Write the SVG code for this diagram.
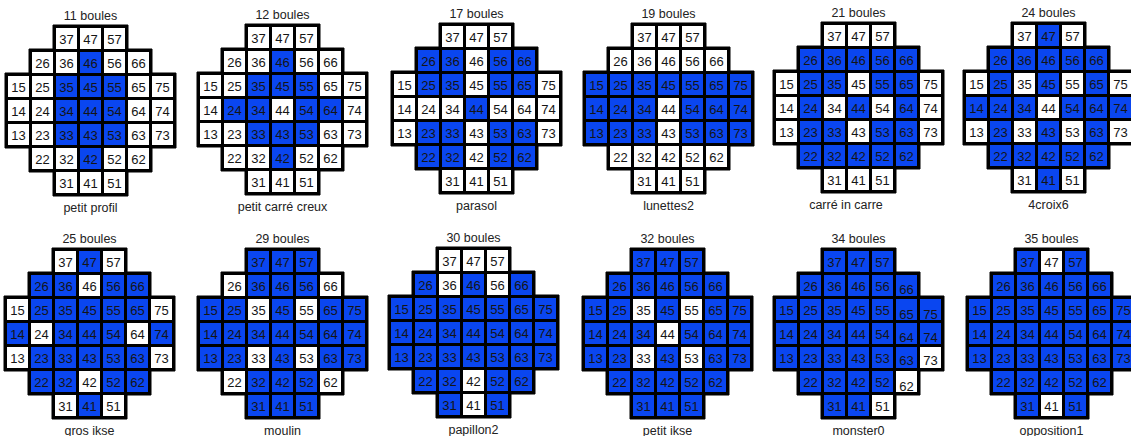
<svg xmlns="http://www.w3.org/2000/svg" xmlns:xlink="http://www.w3.org/1999/xlink" width="1131" height="436" viewBox="0 0 1131 436">
<style>
.fr{fill:#000;stroke:#000;stroke-width:1}
.w{fill:#fff}
.b{fill:#0a46f0}
text{font-family:"Liberation Sans",Arial,sans-serif}
.n text{font-size:13px;text-anchor:middle;fill:#151515}
.t{font-size:12.5px;text-anchor:middle;fill:#222}
</style>
<defs>
<path id="fr" d="M48 0H123V24H147V48H171V123H147V147H123V171H48V147H24V123H0V48H24V24H48Z"/>
<rect id="c" width="21" height="21"/>
<g id="cells">
<use href="#c" x="51" y="3"/><use href="#c" x="75" y="3"/><use href="#c" x="99" y="3"/>
<use href="#c" x="27" y="27"/><use href="#c" x="51" y="27"/><use href="#c" x="75" y="27"/><use href="#c" x="99" y="27"/><use href="#c" x="123" y="27"/>
<use href="#c" x="3" y="51"/><use href="#c" x="27" y="51"/><use href="#c" x="51" y="51"/><use href="#c" x="75" y="51"/><use href="#c" x="99" y="51"/><use href="#c" x="123" y="51"/><use href="#c" x="147" y="51"/>
<use href="#c" x="3" y="75"/><use href="#c" x="27" y="75"/><use href="#c" x="51" y="75"/><use href="#c" x="75" y="75"/><use href="#c" x="99" y="75"/><use href="#c" x="123" y="75"/><use href="#c" x="147" y="75"/>
<use href="#c" x="3" y="99"/><use href="#c" x="27" y="99"/><use href="#c" x="51" y="99"/><use href="#c" x="75" y="99"/><use href="#c" x="99" y="99"/><use href="#c" x="123" y="99"/><use href="#c" x="147" y="99"/>
<use href="#c" x="27" y="123"/><use href="#c" x="51" y="123"/><use href="#c" x="75" y="123"/><use href="#c" x="99" y="123"/><use href="#c" x="123" y="123"/>
<use href="#c" x="51" y="147"/><use href="#c" x="75" y="147"/><use href="#c" x="99" y="147"/>
</g>
</defs>

<g id="board1" transform="translate(5,25)">
<text class="t" x="85.5" y="-5.5">11 boules</text>
<use href="#fr" class="fr"/><use href="#cells" class="w"/>
<g class="b"><use href="#c" x="75" y="27"/><use href="#c" x="51" y="51"/><use href="#c" x="75" y="51"/><use href="#c" x="99" y="51"/><use href="#c" x="51" y="75"/><use href="#c" x="75" y="75"/><use href="#c" x="99" y="75"/><use href="#c" x="51" y="99"/><use href="#c" x="75" y="99"/><use href="#c" x="99" y="99"/><use href="#c" x="75" y="123"/></g>
<g class="n"><text x="61.5" y="18.5">37</text><text x="85.5" y="18.5">47</text><text x="109.5" y="18.5">57</text><text x="37.5" y="42.5">26</text><text x="61.5" y="42.5">36</text><text x="85.5" y="42.5">46</text><text x="109.5" y="42.5">56</text><text x="133.5" y="42.5">66</text><text x="13.5" y="66.5">15</text><text x="37.5" y="66.5">25</text><text x="61.5" y="66.5">35</text><text x="85.5" y="66.5">45</text><text x="109.5" y="66.5">55</text><text x="133.5" y="66.5">65</text><text x="157.5" y="66.5">75</text><text x="13.5" y="90.5">14</text><text x="37.5" y="90.5">24</text><text x="61.5" y="90.5">34</text><text x="85.5" y="90.5">44</text><text x="109.5" y="90.5">54</text><text x="133.5" y="90.5">64</text><text x="157.5" y="90.5">74</text><text x="13.5" y="114.5">13</text><text x="37.5" y="114.5">23</text><text x="61.5" y="114.5">33</text><text x="85.5" y="114.5">43</text><text x="109.5" y="114.5">53</text><text x="133.5" y="114.5">63</text><text x="157.5" y="114.5">73</text><text x="37.5" y="138.5">22</text><text x="61.5" y="138.5">32</text><text x="85.5" y="138.5">42</text><text x="109.5" y="138.5">52</text><text x="133.5" y="138.5">62</text><text x="61.5" y="162.5">31</text><text x="85.5" y="162.5">41</text><text x="109.5" y="162.5">51</text></g>
<text class="t" x="85.5" y="186.5">petit profil</text>
</g>

<g id="board2" transform="translate(197,24)">
<text class="t" x="85.5" y="-5.5">12 boules</text>
<use href="#fr" class="fr"/><use href="#cells" class="w"/>
<g class="b"><use href="#c" x="75" y="27"/><use href="#c" x="51" y="51"/><use href="#c" x="75" y="51"/><use href="#c" x="99" y="51"/><use href="#c" x="27" y="75"/><use href="#c" x="51" y="75"/><use href="#c" x="99" y="75"/><use href="#c" x="123" y="75"/><use href="#c" x="51" y="99"/><use href="#c" x="75" y="99"/><use href="#c" x="99" y="99"/><use href="#c" x="75" y="123"/></g>
<g class="n"><text x="61.5" y="18.5">37</text><text x="85.5" y="18.5">47</text><text x="109.5" y="18.5">57</text><text x="37.5" y="42.5">26</text><text x="61.5" y="42.5">36</text><text x="85.5" y="42.5">46</text><text x="109.5" y="42.5">56</text><text x="133.5" y="42.5">66</text><text x="13.5" y="66.5">15</text><text x="37.5" y="66.5">25</text><text x="61.5" y="66.5">35</text><text x="85.5" y="66.5">45</text><text x="109.5" y="66.5">55</text><text x="133.5" y="66.5">65</text><text x="157.5" y="66.5">75</text><text x="13.5" y="90.5">14</text><text x="37.5" y="90.5">24</text><text x="61.5" y="90.5">34</text><text x="85.5" y="90.5">44</text><text x="109.5" y="90.5">54</text><text x="133.5" y="90.5">64</text><text x="157.5" y="90.5">74</text><text x="13.5" y="114.5">13</text><text x="37.5" y="114.5">23</text><text x="61.5" y="114.5">33</text><text x="85.5" y="114.5">43</text><text x="109.5" y="114.5">53</text><text x="133.5" y="114.5">63</text><text x="157.5" y="114.5">73</text><text x="37.5" y="138.5">22</text><text x="61.5" y="138.5">32</text><text x="85.5" y="138.5">42</text><text x="109.5" y="138.5">52</text><text x="133.5" y="138.5">62</text><text x="61.5" y="162.5">31</text><text x="85.5" y="162.5">41</text><text x="109.5" y="162.5">51</text></g>
<text class="t" x="85.5" y="186.5">petit carré creux</text>
</g>

<g id="board3" transform="translate(391,23)">
<text class="t" x="85.5" y="-5.5">17 boules</text>
<use href="#fr" class="fr"/><use href="#cells" class="w"/>
<g class="b"><use href="#c" x="27" y="27"/><use href="#c" x="51" y="27"/><use href="#c" x="99" y="27"/><use href="#c" x="123" y="27"/><use href="#c" x="27" y="51"/><use href="#c" x="51" y="51"/><use href="#c" x="99" y="51"/><use href="#c" x="123" y="51"/><use href="#c" x="75" y="75"/><use href="#c" x="27" y="99"/><use href="#c" x="51" y="99"/><use href="#c" x="99" y="99"/><use href="#c" x="123" y="99"/><use href="#c" x="27" y="123"/><use href="#c" x="51" y="123"/><use href="#c" x="99" y="123"/><use href="#c" x="123" y="123"/></g>
<g class="n"><text x="61.5" y="18.5">37</text><text x="85.5" y="18.5">47</text><text x="109.5" y="18.5">57</text><text x="37.5" y="42.5">26</text><text x="61.5" y="42.5">36</text><text x="85.5" y="42.5">46</text><text x="109.5" y="42.5">56</text><text x="133.5" y="42.5">66</text><text x="13.5" y="66.5">15</text><text x="37.5" y="66.5">25</text><text x="61.5" y="66.5">35</text><text x="85.5" y="66.5">45</text><text x="109.5" y="66.5">55</text><text x="133.5" y="66.5">65</text><text x="157.5" y="66.5">75</text><text x="13.5" y="90.5">14</text><text x="37.5" y="90.5">24</text><text x="61.5" y="90.5">34</text><text x="85.5" y="90.5">44</text><text x="109.5" y="90.5">54</text><text x="133.5" y="90.5">64</text><text x="157.5" y="90.5">74</text><text x="13.5" y="114.5">13</text><text x="37.5" y="114.5">23</text><text x="61.5" y="114.5">33</text><text x="85.5" y="114.5">43</text><text x="109.5" y="114.5">53</text><text x="133.5" y="114.5">63</text><text x="157.5" y="114.5">73</text><text x="37.5" y="138.5">22</text><text x="61.5" y="138.5">32</text><text x="85.5" y="138.5">42</text><text x="109.5" y="138.5">52</text><text x="133.5" y="138.5">62</text><text x="61.5" y="162.5">31</text><text x="85.5" y="162.5">41</text><text x="109.5" y="162.5">51</text></g>
<text class="t" x="85.5" y="186.5">parasol</text>
</g>

<g id="board4" transform="translate(583,23)">
<text class="t" x="85.5" y="-5.5">19 boules</text>
<use href="#fr" class="fr"/><use href="#cells" class="w"/>
<g class="b"><use href="#c" x="3" y="51"/><use href="#c" x="27" y="51"/><use href="#c" x="51" y="51"/><use href="#c" x="75" y="51"/><use href="#c" x="99" y="51"/><use href="#c" x="123" y="51"/><use href="#c" x="147" y="51"/><use href="#c" x="3" y="75"/><use href="#c" x="27" y="75"/><use href="#c" x="51" y="75"/><use href="#c" x="99" y="75"/><use href="#c" x="123" y="75"/><use href="#c" x="147" y="75"/><use href="#c" x="3" y="99"/><use href="#c" x="27" y="99"/><use href="#c" x="51" y="99"/><use href="#c" x="99" y="99"/><use href="#c" x="123" y="99"/><use href="#c" x="147" y="99"/></g>
<g class="n"><text x="61.5" y="18.5">37</text><text x="85.5" y="18.5">47</text><text x="109.5" y="18.5">57</text><text x="37.5" y="42.5">26</text><text x="61.5" y="42.5">36</text><text x="85.5" y="42.5">46</text><text x="109.5" y="42.5">56</text><text x="133.5" y="42.5">66</text><text x="13.5" y="66.5">15</text><text x="37.5" y="66.5">25</text><text x="61.5" y="66.5">35</text><text x="85.5" y="66.5">45</text><text x="109.5" y="66.5">55</text><text x="133.5" y="66.5">65</text><text x="157.5" y="66.5">75</text><text x="13.5" y="90.5">14</text><text x="37.5" y="90.5">24</text><text x="61.5" y="90.5">34</text><text x="85.5" y="90.5">44</text><text x="109.5" y="90.5">54</text><text x="133.5" y="90.5">64</text><text x="157.5" y="90.5">74</text><text x="13.5" y="114.5">13</text><text x="37.5" y="114.5">23</text><text x="61.5" y="114.5">33</text><text x="85.5" y="114.5">43</text><text x="109.5" y="114.5">53</text><text x="133.5" y="114.5">63</text><text x="157.5" y="114.5">73</text><text x="37.5" y="138.5">22</text><text x="61.5" y="138.5">32</text><text x="85.5" y="138.5">42</text><text x="109.5" y="138.5">52</text><text x="133.5" y="138.5">62</text><text x="61.5" y="162.5">31</text><text x="85.5" y="162.5">41</text><text x="109.5" y="162.5">51</text></g>
<text class="t" x="85.5" y="186.5">lunettes2</text>
</g>

<g id="board5" transform="translate(773,22)">
<text class="t" x="85.5" y="-5.5">21 boules</text>
<use href="#fr" class="fr"/><use href="#cells" class="b"/>
<g class="w"><use href="#c" x="51" y="3"/><use href="#c" x="75" y="3"/><use href="#c" x="99" y="3"/><use href="#c" x="3" y="51"/><use href="#c" x="75" y="51"/><use href="#c" x="147" y="51"/><use href="#c" x="3" y="75"/><use href="#c" x="51" y="75"/><use href="#c" x="99" y="75"/><use href="#c" x="147" y="75"/><use href="#c" x="3" y="99"/><use href="#c" x="75" y="99"/><use href="#c" x="147" y="99"/><use href="#c" x="51" y="147"/><use href="#c" x="75" y="147"/><use href="#c" x="99" y="147"/></g>
<g class="n"><text x="61.5" y="18.5">37</text><text x="85.5" y="18.5">47</text><text x="109.5" y="18.5">57</text><text x="37.5" y="42.5">26</text><text x="61.5" y="42.5">36</text><text x="85.5" y="42.5">46</text><text x="109.5" y="42.5">56</text><text x="133.5" y="42.5">66</text><text x="13.5" y="66.5">15</text><text x="37.5" y="66.5">25</text><text x="61.5" y="66.5">35</text><text x="85.5" y="66.5">45</text><text x="109.5" y="66.5">55</text><text x="133.5" y="66.5">65</text><text x="157.5" y="66.5">75</text><text x="13.5" y="90.5">14</text><text x="37.5" y="90.5">24</text><text x="61.5" y="90.5">34</text><text x="85.5" y="90.5">44</text><text x="109.5" y="90.5">54</text><text x="133.5" y="90.5">64</text><text x="157.5" y="90.5">74</text><text x="13.5" y="114.5">13</text><text x="37.5" y="114.5">23</text><text x="61.5" y="114.5">33</text><text x="85.5" y="114.5">43</text><text x="109.5" y="114.5">53</text><text x="133.5" y="114.5">63</text><text x="157.5" y="114.5">73</text><text x="37.5" y="138.5">22</text><text x="61.5" y="138.5">32</text><text x="85.5" y="138.5">42</text><text x="109.5" y="138.5">52</text><text x="133.5" y="138.5">62</text><text x="61.5" y="162.5">31</text><text x="85.5" y="162.5">41</text><text x="109.5" y="162.5">51</text></g>
<text class="t" x="73" y="186.5">carré in carre</text>
</g>

<g id="board6" transform="translate(963,22)">
<text class="t" x="85.5" y="-5.5">24 boules</text>
<use href="#fr" class="fr"/><use href="#cells" class="b"/>
<g class="w"><use href="#c" x="51" y="3"/><use href="#c" x="99" y="3"/><use href="#c" x="3" y="51"/><use href="#c" x="51" y="51"/><use href="#c" x="99" y="51"/><use href="#c" x="147" y="51"/><use href="#c" x="75" y="75"/><use href="#c" x="3" y="99"/><use href="#c" x="51" y="99"/><use href="#c" x="99" y="99"/><use href="#c" x="147" y="99"/><use href="#c" x="51" y="147"/><use href="#c" x="99" y="147"/></g>
<g class="n"><text x="61.5" y="18.5">37</text><text x="85.5" y="18.5">47</text><text x="109.5" y="18.5">57</text><text x="37.5" y="42.5">26</text><text x="61.5" y="42.5">36</text><text x="85.5" y="42.5">46</text><text x="109.5" y="42.5">56</text><text x="133.5" y="42.5">66</text><text x="13.5" y="66.5">15</text><text x="37.5" y="66.5">25</text><text x="61.5" y="66.5">35</text><text x="85.5" y="66.5">45</text><text x="109.5" y="66.5">55</text><text x="133.5" y="66.5">65</text><text x="157.5" y="66.5">75</text><text x="13.5" y="90.5">14</text><text x="37.5" y="90.5">24</text><text x="61.5" y="90.5">34</text><text x="85.5" y="90.5">44</text><text x="109.5" y="90.5">54</text><text x="133.5" y="90.5">64</text><text x="157.5" y="90.5">74</text><text x="13.5" y="114.5">13</text><text x="37.5" y="114.5">23</text><text x="61.5" y="114.5">33</text><text x="85.5" y="114.5">43</text><text x="109.5" y="114.5">53</text><text x="133.5" y="114.5">63</text><text x="157.5" y="114.5">73</text><text x="37.5" y="138.5">22</text><text x="61.5" y="138.5">32</text><text x="85.5" y="138.5">42</text><text x="109.5" y="138.5">52</text><text x="133.5" y="138.5">62</text><text x="61.5" y="162.5">31</text><text x="85.5" y="162.5">41</text><text x="109.5" y="162.5">51</text></g>
<text class="t" x="85.5" y="186.5">4croix6</text>
</g>

<g id="board7" transform="translate(4,248)">
<text class="t" x="85.5" y="-5.5">25 boules</text>
<use href="#fr" class="fr"/><use href="#cells" class="b"/>
<g class="w"><use href="#c" x="51" y="3"/><use href="#c" x="99" y="3"/><use href="#c" x="75" y="27"/><use href="#c" x="3" y="51"/><use href="#c" x="147" y="51"/><use href="#c" x="27" y="75"/><use href="#c" x="123" y="75"/><use href="#c" x="3" y="99"/><use href="#c" x="147" y="99"/><use href="#c" x="75" y="123"/><use href="#c" x="51" y="147"/><use href="#c" x="99" y="147"/></g>
<g class="n"><text x="61.5" y="18.5">37</text><text x="85.5" y="18.5">47</text><text x="109.5" y="18.5">57</text><text x="37.5" y="42.5">26</text><text x="61.5" y="42.5">36</text><text x="85.5" y="42.5">46</text><text x="109.5" y="42.5">56</text><text x="133.5" y="42.5">66</text><text x="13.5" y="66.5">15</text><text x="37.5" y="66.5">25</text><text x="61.5" y="66.5">35</text><text x="85.5" y="66.5">45</text><text x="109.5" y="66.5">55</text><text x="133.5" y="66.5">65</text><text x="157.5" y="66.5">75</text><text x="13.5" y="90.5">14</text><text x="37.5" y="90.5">24</text><text x="61.5" y="90.5">34</text><text x="85.5" y="90.5">44</text><text x="109.5" y="90.5">54</text><text x="133.5" y="90.5">64</text><text x="157.5" y="90.5">74</text><text x="13.5" y="114.5">13</text><text x="37.5" y="114.5">23</text><text x="61.5" y="114.5">33</text><text x="85.5" y="114.5">43</text><text x="109.5" y="114.5">53</text><text x="133.5" y="114.5">63</text><text x="157.5" y="114.5">73</text><text x="37.5" y="138.5">22</text><text x="61.5" y="138.5">32</text><text x="85.5" y="138.5">42</text><text x="109.5" y="138.5">52</text><text x="133.5" y="138.5">62</text><text x="61.5" y="162.5">31</text><text x="85.5" y="162.5">41</text><text x="109.5" y="162.5">51</text></g>
<text class="t" x="85.5" y="186.5">gros ikse</text>
</g>

<g id="board8" transform="translate(197,248)">
<text class="t" x="85.5" y="-5.5">29 boules</text>
<use href="#fr" class="fr"/><use href="#cells" class="b"/>
<g class="w"><use href="#c" x="27" y="27"/><use href="#c" x="123" y="27"/><use href="#c" x="51" y="51"/><use href="#c" x="99" y="51"/><use href="#c" x="51" y="99"/><use href="#c" x="99" y="99"/><use href="#c" x="27" y="123"/><use href="#c" x="123" y="123"/></g>
<g class="n"><text x="61.5" y="18.5">37</text><text x="85.5" y="18.5">47</text><text x="109.5" y="18.5">57</text><text x="37.5" y="42.5">26</text><text x="61.5" y="42.5">36</text><text x="85.5" y="42.5">46</text><text x="109.5" y="42.5">56</text><text x="133.5" y="42.5">66</text><text x="13.5" y="66.5">15</text><text x="37.5" y="66.5">25</text><text x="61.5" y="66.5">35</text><text x="85.5" y="66.5">45</text><text x="109.5" y="66.5">55</text><text x="133.5" y="66.5">65</text><text x="157.5" y="66.5">75</text><text x="13.5" y="90.5">14</text><text x="37.5" y="90.5">24</text><text x="61.5" y="90.5">34</text><text x="85.5" y="90.5">44</text><text x="109.5" y="90.5">54</text><text x="133.5" y="90.5">64</text><text x="157.5" y="90.5">74</text><text x="13.5" y="114.5">13</text><text x="37.5" y="114.5">23</text><text x="61.5" y="114.5">33</text><text x="85.5" y="114.5">43</text><text x="109.5" y="114.5">53</text><text x="133.5" y="114.5">63</text><text x="157.5" y="114.5">73</text><text x="37.5" y="138.5">22</text><text x="61.5" y="138.5">32</text><text x="85.5" y="138.5">42</text><text x="109.5" y="138.5">52</text><text x="133.5" y="138.5">62</text><text x="61.5" y="162.5">31</text><text x="85.5" y="162.5">41</text><text x="109.5" y="162.5">51</text></g>
<text class="t" x="85.5" y="186.5">moulin</text>
</g>

<g id="board9" transform="translate(388,247)">
<text class="t" x="85.5" y="-5.5">30 boules</text>
<use href="#fr" class="fr"/><use href="#cells" class="b"/>
<g class="w"><use href="#c" x="51" y="3"/><use href="#c" x="75" y="3"/><use href="#c" x="99" y="3"/><use href="#c" x="51" y="27"/><use href="#c" x="99" y="27"/><use href="#c" x="75" y="123"/><use href="#c" x="75" y="147"/></g>
<g class="n"><text x="61.5" y="18.5">37</text><text x="85.5" y="18.5">47</text><text x="109.5" y="18.5">57</text><text x="37.5" y="42.5">26</text><text x="61.5" y="42.5">36</text><text x="85.5" y="42.5">46</text><text x="109.5" y="42.5">56</text><text x="133.5" y="42.5">66</text><text x="13.5" y="66.5">15</text><text x="37.5" y="66.5">25</text><text x="61.5" y="66.5">35</text><text x="85.5" y="66.5">45</text><text x="109.5" y="66.5">55</text><text x="133.5" y="66.5">65</text><text x="157.5" y="66.5">75</text><text x="13.5" y="90.5">14</text><text x="37.5" y="90.5">24</text><text x="61.5" y="90.5">34</text><text x="85.5" y="90.5">44</text><text x="109.5" y="90.5">54</text><text x="133.5" y="90.5">64</text><text x="157.5" y="90.5">74</text><text x="13.5" y="114.5">13</text><text x="37.5" y="114.5">23</text><text x="61.5" y="114.5">33</text><text x="85.5" y="114.5">43</text><text x="109.5" y="114.5">53</text><text x="133.5" y="114.5">63</text><text x="157.5" y="114.5">73</text><text x="37.5" y="138.5">22</text><text x="61.5" y="138.5">32</text><text x="85.5" y="138.5">42</text><text x="109.5" y="138.5">52</text><text x="133.5" y="138.5">62</text><text x="61.5" y="162.5">31</text><text x="85.5" y="162.5">41</text><text x="109.5" y="162.5">51</text></g>
<text class="t" x="85.5" y="186.5">papillon2</text>
</g>

<g id="board10" transform="translate(582,248)">
<text class="t" x="85.5" y="-5.5">32 boules</text>
<use href="#fr" class="fr"/><use href="#cells" class="b"/>
<g class="w"><use href="#c" x="51" y="51"/><use href="#c" x="99" y="51"/><use href="#c" x="75" y="75"/><use href="#c" x="51" y="99"/><use href="#c" x="99" y="99"/></g>
<g class="n"><text x="61.5" y="18.5">37</text><text x="85.5" y="18.5">47</text><text x="109.5" y="18.5">57</text><text x="37.5" y="42.5">26</text><text x="61.5" y="42.5">36</text><text x="85.5" y="42.5">46</text><text x="109.5" y="42.5">56</text><text x="133.5" y="42.5">66</text><text x="13.5" y="66.5">15</text><text x="37.5" y="66.5">25</text><text x="61.5" y="66.5">35</text><text x="85.5" y="66.5">45</text><text x="109.5" y="66.5">55</text><text x="133.5" y="66.5">65</text><text x="157.5" y="66.5">75</text><text x="13.5" y="90.5">14</text><text x="37.5" y="90.5">24</text><text x="61.5" y="90.5">34</text><text x="85.5" y="90.5">44</text><text x="109.5" y="90.5">54</text><text x="133.5" y="90.5">64</text><text x="157.5" y="90.5">74</text><text x="13.5" y="114.5">13</text><text x="37.5" y="114.5">23</text><text x="61.5" y="114.5">33</text><text x="85.5" y="114.5">43</text><text x="109.5" y="114.5">53</text><text x="133.5" y="114.5">63</text><text x="157.5" y="114.5">73</text><text x="37.5" y="138.5">22</text><text x="61.5" y="138.5">32</text><text x="85.5" y="138.5">42</text><text x="109.5" y="138.5">52</text><text x="133.5" y="138.5">62</text><text x="61.5" y="162.5">31</text><text x="85.5" y="162.5">41</text><text x="109.5" y="162.5">51</text></g>
<text class="t" x="85.5" y="186.5">petit ikse</text>
</g>

<g id="board11" transform="translate(773,248)">
<text class="t" x="85.5" y="-5.5">34 boules</text>
<use href="#fr" class="fr"/><use href="#cells" class="b"/>
<g class="w"><use href="#c" x="147" y="99"/><use href="#c" x="123" y="123"/><use href="#c" x="99" y="147"/></g>
<g class="n"><text x="61.5" y="18.5">37</text><text x="85.5" y="18.5">47</text><text x="109.5" y="18.5">57</text><text x="37.5" y="42.5">26</text><text x="61.5" y="42.5">36</text><text x="85.5" y="42.5">46</text><text x="109.5" y="42.5">56</text><text x="133.5" y="46">66</text><text x="13.5" y="66.5">15</text><text x="37.5" y="66.5">25</text><text x="61.5" y="66.5">35</text><text x="85.5" y="66.5">45</text><text x="109.5" y="66.5">55</text><text x="133.5" y="71">65</text><text x="157.5" y="71">75</text><text x="13.5" y="90.5">14</text><text x="37.5" y="90.5">24</text><text x="61.5" y="90.5">34</text><text x="85.5" y="90.5">44</text><text x="109.5" y="90.5">54</text><text x="133.5" y="94">64</text><text x="157.5" y="94">74</text><text x="13.5" y="114.5">13</text><text x="37.5" y="114.5">23</text><text x="61.5" y="114.5">33</text><text x="85.5" y="114.5">43</text><text x="109.5" y="114.5">53</text><text x="133.5" y="117">63</text><text x="157.5" y="117">73</text><text x="37.5" y="138.5">22</text><text x="61.5" y="138.5">32</text><text x="85.5" y="138.5">42</text><text x="109.5" y="138.5">52</text><text x="133.5" y="143">62</text><text x="61.5" y="162.5">31</text><text x="85.5" y="162.5">41</text><text x="109.5" y="162.5">51</text></g>
<text class="t" x="85.5" y="186.5">monster0</text>
</g>

<g id="board12" transform="translate(966,248)">
<text class="t" x="85.5" y="-5.5">35 boules</text>
<use href="#fr" class="fr"/><use href="#cells" class="b"/>
<g class="w"><use href="#c" x="75" y="3"/><use href="#c" x="75" y="147"/></g>
<g class="n"><text x="61.5" y="18.5">37</text><text x="85.5" y="18.5">47</text><text x="109.5" y="18.5">57</text><text x="37.5" y="42.5">26</text><text x="61.5" y="42.5">36</text><text x="85.5" y="42.5">46</text><text x="109.5" y="42.5">56</text><text x="133.5" y="42.5">66</text><text x="13.5" y="66.5">15</text><text x="37.5" y="66.5">25</text><text x="61.5" y="66.5">35</text><text x="85.5" y="66.5">45</text><text x="109.5" y="66.5">55</text><text x="133.5" y="66.5">65</text><text x="157.5" y="66.5">75</text><text x="13.5" y="90.5">14</text><text x="37.5" y="90.5">24</text><text x="61.5" y="90.5">34</text><text x="85.5" y="90.5">44</text><text x="109.5" y="90.5">54</text><text x="133.5" y="90.5">64</text><text x="157.5" y="90.5">74</text><text x="13.5" y="114.5">13</text><text x="37.5" y="114.5">23</text><text x="61.5" y="114.5">33</text><text x="85.5" y="114.5">43</text><text x="109.5" y="114.5">53</text><text x="133.5" y="114.5">63</text><text x="157.5" y="114.5">73</text><text x="37.5" y="138.5">22</text><text x="61.5" y="138.5">32</text><text x="85.5" y="138.5">42</text><text x="109.5" y="138.5">52</text><text x="133.5" y="138.5">62</text><text x="61.5" y="162.5">31</text><text x="85.5" y="162.5">41</text><text x="109.5" y="162.5">51</text></g>
<text class="t" x="85.5" y="186.5">opposition1</text>
</g>
</svg>
